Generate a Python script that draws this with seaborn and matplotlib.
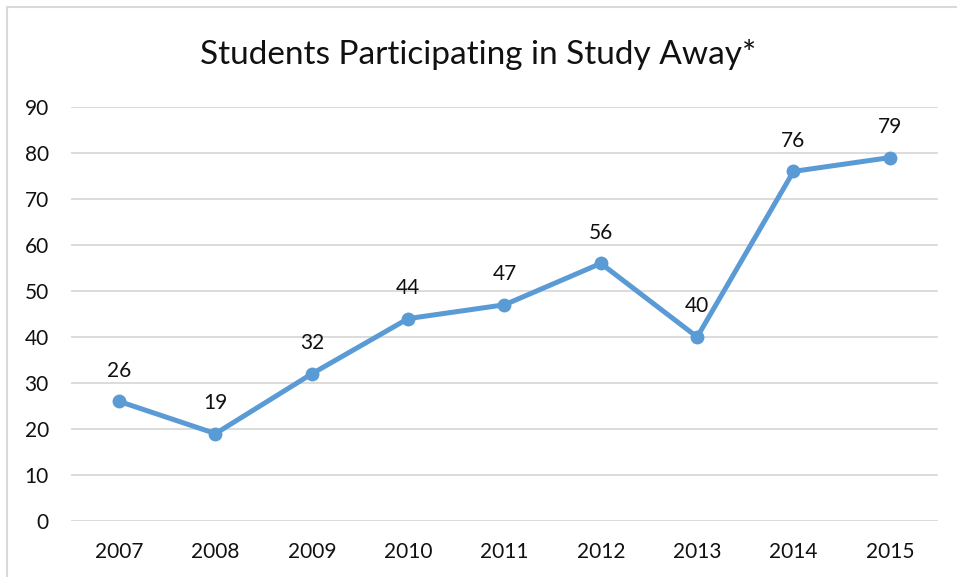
import matplotlib
matplotlib.use("Agg")
import matplotlib.pyplot as plt
import seaborn as sns
import pandas as pd

years = ["2007", "2008", "2009", "2010", "2011", "2012", "2013", "2014", "2015"]
students = [26, 19, 32, 44, 47, 56, 40, 76, 79]
y_ticks = [0, 10, 20, 30, 40, 50, 60, 70, 80, 90]

sns.set_theme(style="white")
plt.rcParams["font.family"] = ["Lato", "DejaVu Sans"]

df = pd.DataFrame({"pos": range(len(years)), "year": years, "students": students})

fig = plt.figure(figsize=(9.57, 5.77), dpi=100)
ax = fig.add_axes([71 / 957, 1 - 521 / 577, (938 - 71) / 957, (521 - 107) / 577])

line_color = "#5B9BD5"
sns.lineplot(data=df, x="pos", y="students", ax=ax, color=line_color,
             linewidth=3.6, marker="o", markersize=10, markeredgewidth=0)

for x, v in zip(df["pos"], df["students"]):
    ax.annotate(str(v), (x, v), xytext=(0, 22), textcoords="offset points",
                ha="center", va="center", fontsize=15, color="#111111")

ax.set_xlim(-0.5, len(years) - 0.5)
ax.set_ylim(0, 90)
ax.set_xticks(range(len(years)))
ax.set_xticklabels(years)
ax.set_yticks(y_ticks)
ax.set_yticklabels([str(t) for t in y_ticks])
ax.tick_params(axis="both", labelsize=15, colors="#111111", length=0)
ax.tick_params(axis="x", pad=15)
ax.tick_params(axis="y", pad=16)
ax.set_xlabel("")
ax.set_ylabel("")
ax.grid(axis="y", color="#D9D9D9", linewidth=1.3)
ax.set_axisbelow(True)
for s in ax.spines.values():
    s.set_visible(False)

fig.text(0.5, 1 - 55 / 577, "Students Participating in Study Away*",
         ha="center", va="center", fontsize=24, color="#111111")

# chart area frame (left and top edges visible)
fig.add_artist(plt.Line2D([7 / 957, 7 / 957], [0, 1 - 7 / 577],
                          transform=fig.transFigure, color="#D9D9D9", linewidth=1.5))
fig.add_artist(plt.Line2D([7 / 957, 1], [1 - 7 / 577, 1 - 7 / 577],
                          transform=fig.transFigure, color="#D9D9D9", linewidth=1.5))

fig.savefig("out.png", dpi=100, facecolor="white")
